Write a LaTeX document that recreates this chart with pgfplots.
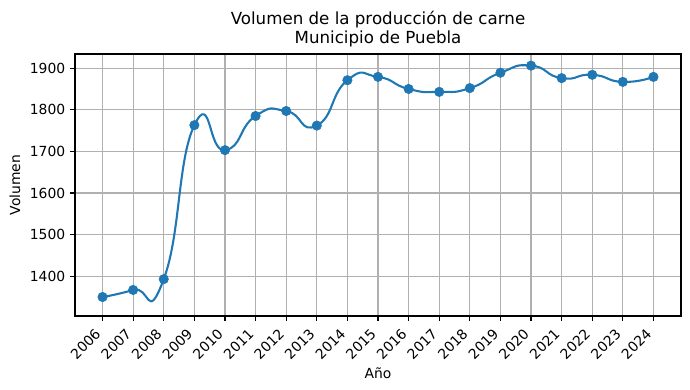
\documentclass[border=0pt]{standalone}
\usepackage{fontspec}
\setmainfont{DejaVu Sans}
\usepackage{pgfplots}
\pgfplotsset{compat=1.18}
\definecolor{mplblue}{HTML}{1F77B4}
\definecolor{gridgray}{HTML}{B0B0B0}
\begin{document}
\begin{tikzpicture}
\begin{axis}[
  scale only axis,
  width=436.3pt, height=188.6pt,
  xmin=2005.1, xmax=2024.9,
  ymin=1304.5, ymax=1934,
  xtick={2006,2007,...,2024},
  ytick={1400,1500,1600,1700,1800,1900},
  xticklabel style={xshift=-6pt, rotate=45, anchor=north east, font=\fontsize{10}{12}\selectfont},
  yticklabel style={font=\fontsize{10}{12}\selectfont},
  /pgf/number format/assume math mode=true,
  /pgf/number format/set thousands separator={},
  grid=major,
  major grid style={gridgray, line width=0.8pt},
  axis line style={line width=0.8pt},
  tick style={black, line width=0.8pt},
  tick align=outside,
  major tick length=3.5pt,
  xtick pos=bottom, ytick pos=left,
  title={Volumen de la producción de carne\\Municipio de Puebla},
  title style={align=center, font=\fontsize{12}{14}\selectfont, yshift=-4.5pt},
  xlabel={Año}, ylabel={Volumen},
  label style={font=\fontsize{10}{12}\selectfont},
  xlabel style={yshift=3pt},
]
\addplot[mplblue, line width=1.5pt, smooth, tension=1.0, no marks] coordinates {
(2006,1350) (2007,1367) (2008,1393) (2009,1763) (2010,1703) (2011,1785) (2012,1797)
(2013,1762) (2014,1871) (2015,1879) (2016,1850) (2017,1843) (2018,1852) (2019,1889)
(2020,1906) (2021,1876) (2022,1884) (2023,1867) (2024,1879)};
\addplot[only marks, mark=*, mark size=3.4pt, mark options={fill=mplblue, draw=mplblue}] coordinates {
(2006,1350) (2007,1367) (2008,1393) (2009,1763) (2010,1703) (2011,1785) (2012,1797)
(2013,1762) (2014,1871) (2015,1879) (2016,1850) (2017,1843) (2018,1852) (2019,1889)
(2020,1906) (2021,1876) (2022,1884) (2023,1867) (2024,1879)};
\end{axis}
\useasboundingbox ([xshift=-54pt, yshift=-53.28pt]current axis.south west) rectangle ([xshift=6.48pt, yshift=38.88pt]current axis.north east);
\end{tikzpicture}
\end{document}
